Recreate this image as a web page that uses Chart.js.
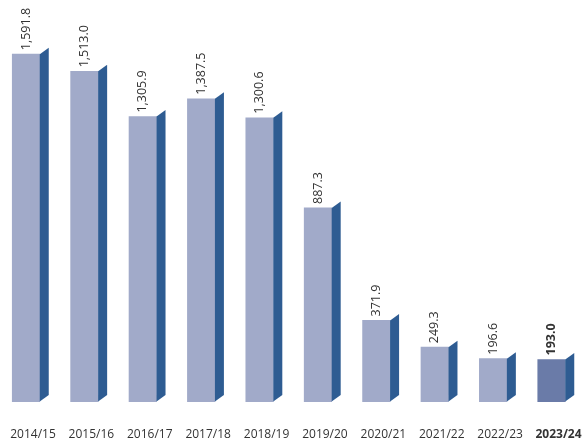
<!DOCTYPE html>
<html>
<head>
<meta charset="utf-8">
<script src="https://cdn.jsdelivr.net/npm/chart.js@4"></script>
<style>
  body { margin: 0; background: #fff; }
  #wrap { width: 584px; height: 446px; }
</style>
</head>
<body>
<div id="wrap"><canvas id="myChart"></canvas></div>
<script>
// seasons and values
const seasons = ['2014/15', '2015/16', '2016/17', '2017/18', '2018/19', '2019/20', '2020/21', '2021/22', '2022/23', '2023/24'];
const values = [1591.8, 1513.0, 1305.9, 1387.5, 1300.6, 887.3, 371.9, 249.3, 196.6, 193.0];
const lastIdx = seasons.length - 1;

const frontColor = 'rgb(161, 170, 201)';
const lastColor = 'rgb(106, 123, 168)';
const sideColor = 'rgb(46, 92, 146)';
const textColor = '#333333';

// side face + rotated value labels
const sidePlugin = {
    id: 'side',
    afterDatasetsDraw(chart) {
        const c = chart.ctx;
        const meta = chart.getDatasetMeta(0);
        meta.data.forEach((bar, i) => {
            const p = bar.getProps(['x', 'y', 'width', 'base'], true);
            const r = p.x + p.width / 2;
            const dx = 9, dy = 6.5;
            c.save();
            c.fillStyle = sideColor;
            c.beginPath();
            c.moveTo(r, p.y);
            c.lineTo(r + dx, p.y - dy);
            c.lineTo(r + dx, p.base - dy);
            c.lineTo(r, p.base);
            c.closePath();
            c.fill();

            c.translate(p.x, p.y - 4);
            c.rotate(-Math.PI / 2);
            c.fillStyle = textColor;
            c.font = (i === lastIdx ? 'bold ' : '') + '12.5px "Open Sans"';
            c.textAlign = 'left';
            c.textBaseline = 'middle';
            c.fillText(values[i].toLocaleString('en-US', {minimumFractionDigits: 1, maximumFractionDigits: 1}), 0, 0);
            c.restore();
        });
    }
};

const ctx = document.getElementById('myChart');
const myChart = new Chart(ctx, {
    type: 'bar',
    data: {
        labels: seasons,
        datasets: [{
            data: values,
            backgroundColor: seasons.map((s, i) => i === lastIdx ? lastColor : frontColor),
            borderWidth: 0,
            barThickness: 27.5,
            clip: false
        }]
    },
    options: {
        responsive: true,
        maintainAspectRatio: false,
        animation: false,
        layout: { padding: { left: 26, right: 32.5, top: 0, bottom: -22 } },
        plugins: { legend: { display: false }, tooltip: { enabled: false } },
        scales: {
            x: {
                offset: false,
                grid: { display: false, drawTicks: false },
                border: { display: false },
                afterFit: (scale) => { scale.paddingLeft = 0; scale.paddingRight = 0; },
                ticks: {
                    color: textColor,
                    padding: 26,
                    labelOffset: 7,
                    maxRotation: 0,
                    autoSkip: false,
                    font: (c) => ({ family: '"Open Sans"', size: 12, lineHeight: 1.2, weight: c.index === lastIdx ? 'bold' : 'normal' })
                }
            },
            y: {
                display: false,
                min: 0,
                max: 1840
            }
        }
    },
    plugins: [sidePlugin]
});
</script>
</body>
</html>
